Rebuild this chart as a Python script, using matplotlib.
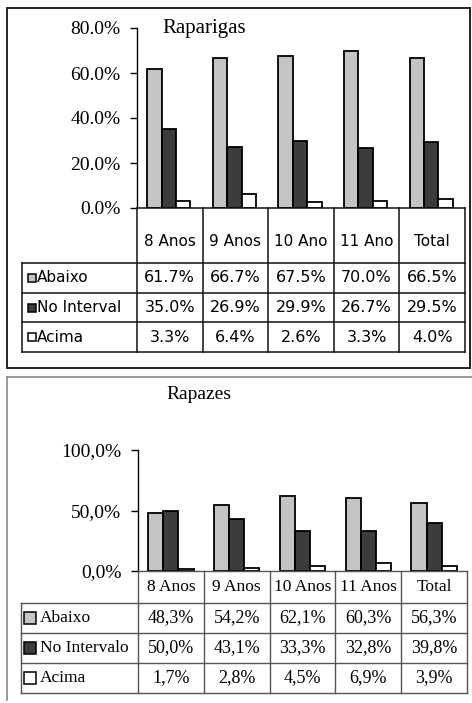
import matplotlib
matplotlib.use('Agg')
import matplotlib.pyplot as plt
from matplotlib.patches import Rectangle
from matplotlib.lines import Line2D
from matplotlib.ticker import FuncFormatter

W, H = 472, 703

# Raparigas
cats_f = ['8 Anos', '9 Anos', '10 Ano', '11 Ano', 'Total']
nomes_f = ['Abaixo', 'No Interval', 'Acima']
abaixo_f = [61.7, 66.7, 67.5, 70.0, 66.5]
intervalo_f = [35.0, 26.9, 29.9, 26.7, 29.5]
acima_f = [3.3, 6.4, 2.6, 3.3, 4.0]
yticks_f = [0, 20, 40, 60, 80]

# Rapazes
cats_m = ['8 Anos', '9 Anos', '10 Anos', '11 Anos', 'Total']
nomes_m = ['Abaixo', 'No Intervalo', 'Acima']
abaixo_m = [48.3, 54.2, 62.1, 60.3, 56.3]
intervalo_m = [50.0, 43.1, 33.3, 32.8, 39.8]
acima_m = [1.7, 2.8, 4.5, 6.9, 3.9]
yticks_m = [0, 50, 100]

cores = ['#c4c4c4', '#3c3c3c', 'white']
SERIF = 'Liberation Serif'
SANS = 'DejaVu Sans'


def box(x0, y0, x1, y1):
    # pixel box (top-left origin) -> figure fraction rect
    return [x0 / W, 1 - y1 / H, (x1 - x0) / W, (y1 - y0) / H]


def pct(v, sep):
    return ('%.1f%%' % v).replace('.', sep)


def painel(fig, titulo, cats, nomes, series, yticks, sep, g):
    n = len(cats)
    ax = fig.add_axes(box(g['x0'], g['ytop'], g['x1'], g['y0']))
    x = list(range(n))
    for k, vals in enumerate(series):
        off = (k - 1) * g['bw'] + g['shift']
        ax.bar([i + off for i in x], vals, g['bw'], color=cores[k],
               edgecolor='black', linewidth=1.3, zorder=3)
    ax.set_xlim(-0.5, n - 0.5)
    ax.set_ylim(0, yticks[-1])
    ax.set_yticks(yticks)
    ax.yaxis.set_major_formatter(FuncFormatter(lambda v, p: pct(v, sep)))
    ax.tick_params(axis='y', direction='out', length=5, width=1, pad=7,
                   labelsize=g['tick_fs'])
    for lab in ax.get_yticklabels():
        lab.set_fontfamily(SERIF)
    ax.set_xticks([])
    for s in ['top', 'right', 'bottom']:
        ax.spines[s].set_visible(False)
    ax.spines['left'].set_linewidth(1)
    ax.patch.set_alpha(0)
    fig.text(g['tx'] / W, 1 - g['ty'] / H, titulo, fontfamily=SERIF,
             fontsize=g['title_fs'], ha='center', va='center')

    # data table under the bars, sharing the category columns
    hh, rh = g['hh'], g['rh']
    tot = hh + rh * len(series)
    cw = (g['x1'] - g['x0']) / n
    lw_units = (g['x0'] - g['tl']) / cw
    left = -0.5 - lw_units
    tb = fig.add_axes(box(g['tl'], g['y0'], g['x1'], g['y0'] + tot))
    tb.set_xlim(left, n - 0.5)
    tb.set_ylim(tot, 0)
    tb.axis('off')
    lc, lw = g['lc'], g['lw']
    tb.plot([-0.5, n - 0.5], [0, 0], color=lc, lw=lw, clip_on=False)
    for k in range(n + 1):
        tb.plot([k - 0.5, k - 0.5], [0, tot], color=lc, lw=lw, clip_on=False)
    tb.plot([left, left], [hh, tot], color=lc, lw=lw, clip_on=False)
    for r in range(len(series) + 1):
        tb.plot([left, n - 0.5], [hh + r * rh] * 2, color=lc, lw=lw,
                clip_on=False)
    for i, c in enumerate(cats):
        tb.text(i, hh * g['hy'], c, ha='center', va='center',
                fontfamily=g['font'], fontsize=g['fs'])
    for r, vals in enumerate(series):
        yc = hh + (r + 0.5) * rh
        tb.plot([left + g['kx'] / cw], [yc], marker='s', ms=g['ks'],
                mfc=cores[r], mec='black', mew=1.1, clip_on=False)
        tb.text(left + g['lx'] / cw, yc, nomes[r], ha='left', va='center',
                fontfamily=g['font'], fontsize=g['fs'])
        for i, v in enumerate(vals):
            tb.text(i, yc, pct(v, sep), ha='center', va='center',
                    fontfamily=g['font'], fontsize=g['vfs'])


fig = plt.figure(figsize=(W / 100, H / 100), dpi=100)
fig.patch.set_facecolor('white')

# panel frames
fig.add_artist(Rectangle((7 / W, 1 - 368 / H), 463 / W, 360 / H,
                         transform=fig.transFigure, fill=False,
                         lw=1.4, ec='#222222'))
fig.add_artist(Line2D([7 / W, 1], [1 - 377 / H] * 2,
                      transform=fig.transFigure, color='#8a8a8a', lw=1.2))
fig.add_artist(Line2D([7 / W] * 2, [1 - 377 / H, 1 - 700 / H],
                      transform=fig.transFigure, color='#8a8a8a', lw=1.2))

painel(fig, 'Raparigas', cats_f, nomes_f,
       [abaixo_f, intervalo_f, acima_f], yticks_f, '.',
       dict(x0=137, x1=465, ytop=28, y0=208, bw=0.22, shift=-0.015,
            tick_fs=14, title_fs=15, tx=204, ty=28,
            hh=55, rh=29.7, tl=22, lc='#111111', lw=1.1,
            font=SANS, fs=11, vfs=11.5, hy=0.6, kx=10, lx=15, ks=6))

painel(fig, 'Rapazes', cats_m, nomes_m,
       [abaixo_m, intervalo_m, acima_m], yticks_m, ',',
       dict(x0=138, x1=467, ytop=450, y0=571, bw=0.23, shift=0.0,
            tick_fs=14, title_fs=14, tx=199, ty=395,
            hh=32, rh=30, tl=21, lc='#555555', lw=1.0,
            font=SERIF, fs=12.5, vfs=13, hy=0.5, kx=9, lx=19, ks=8))

fig.savefig('out.png', dpi=100)
